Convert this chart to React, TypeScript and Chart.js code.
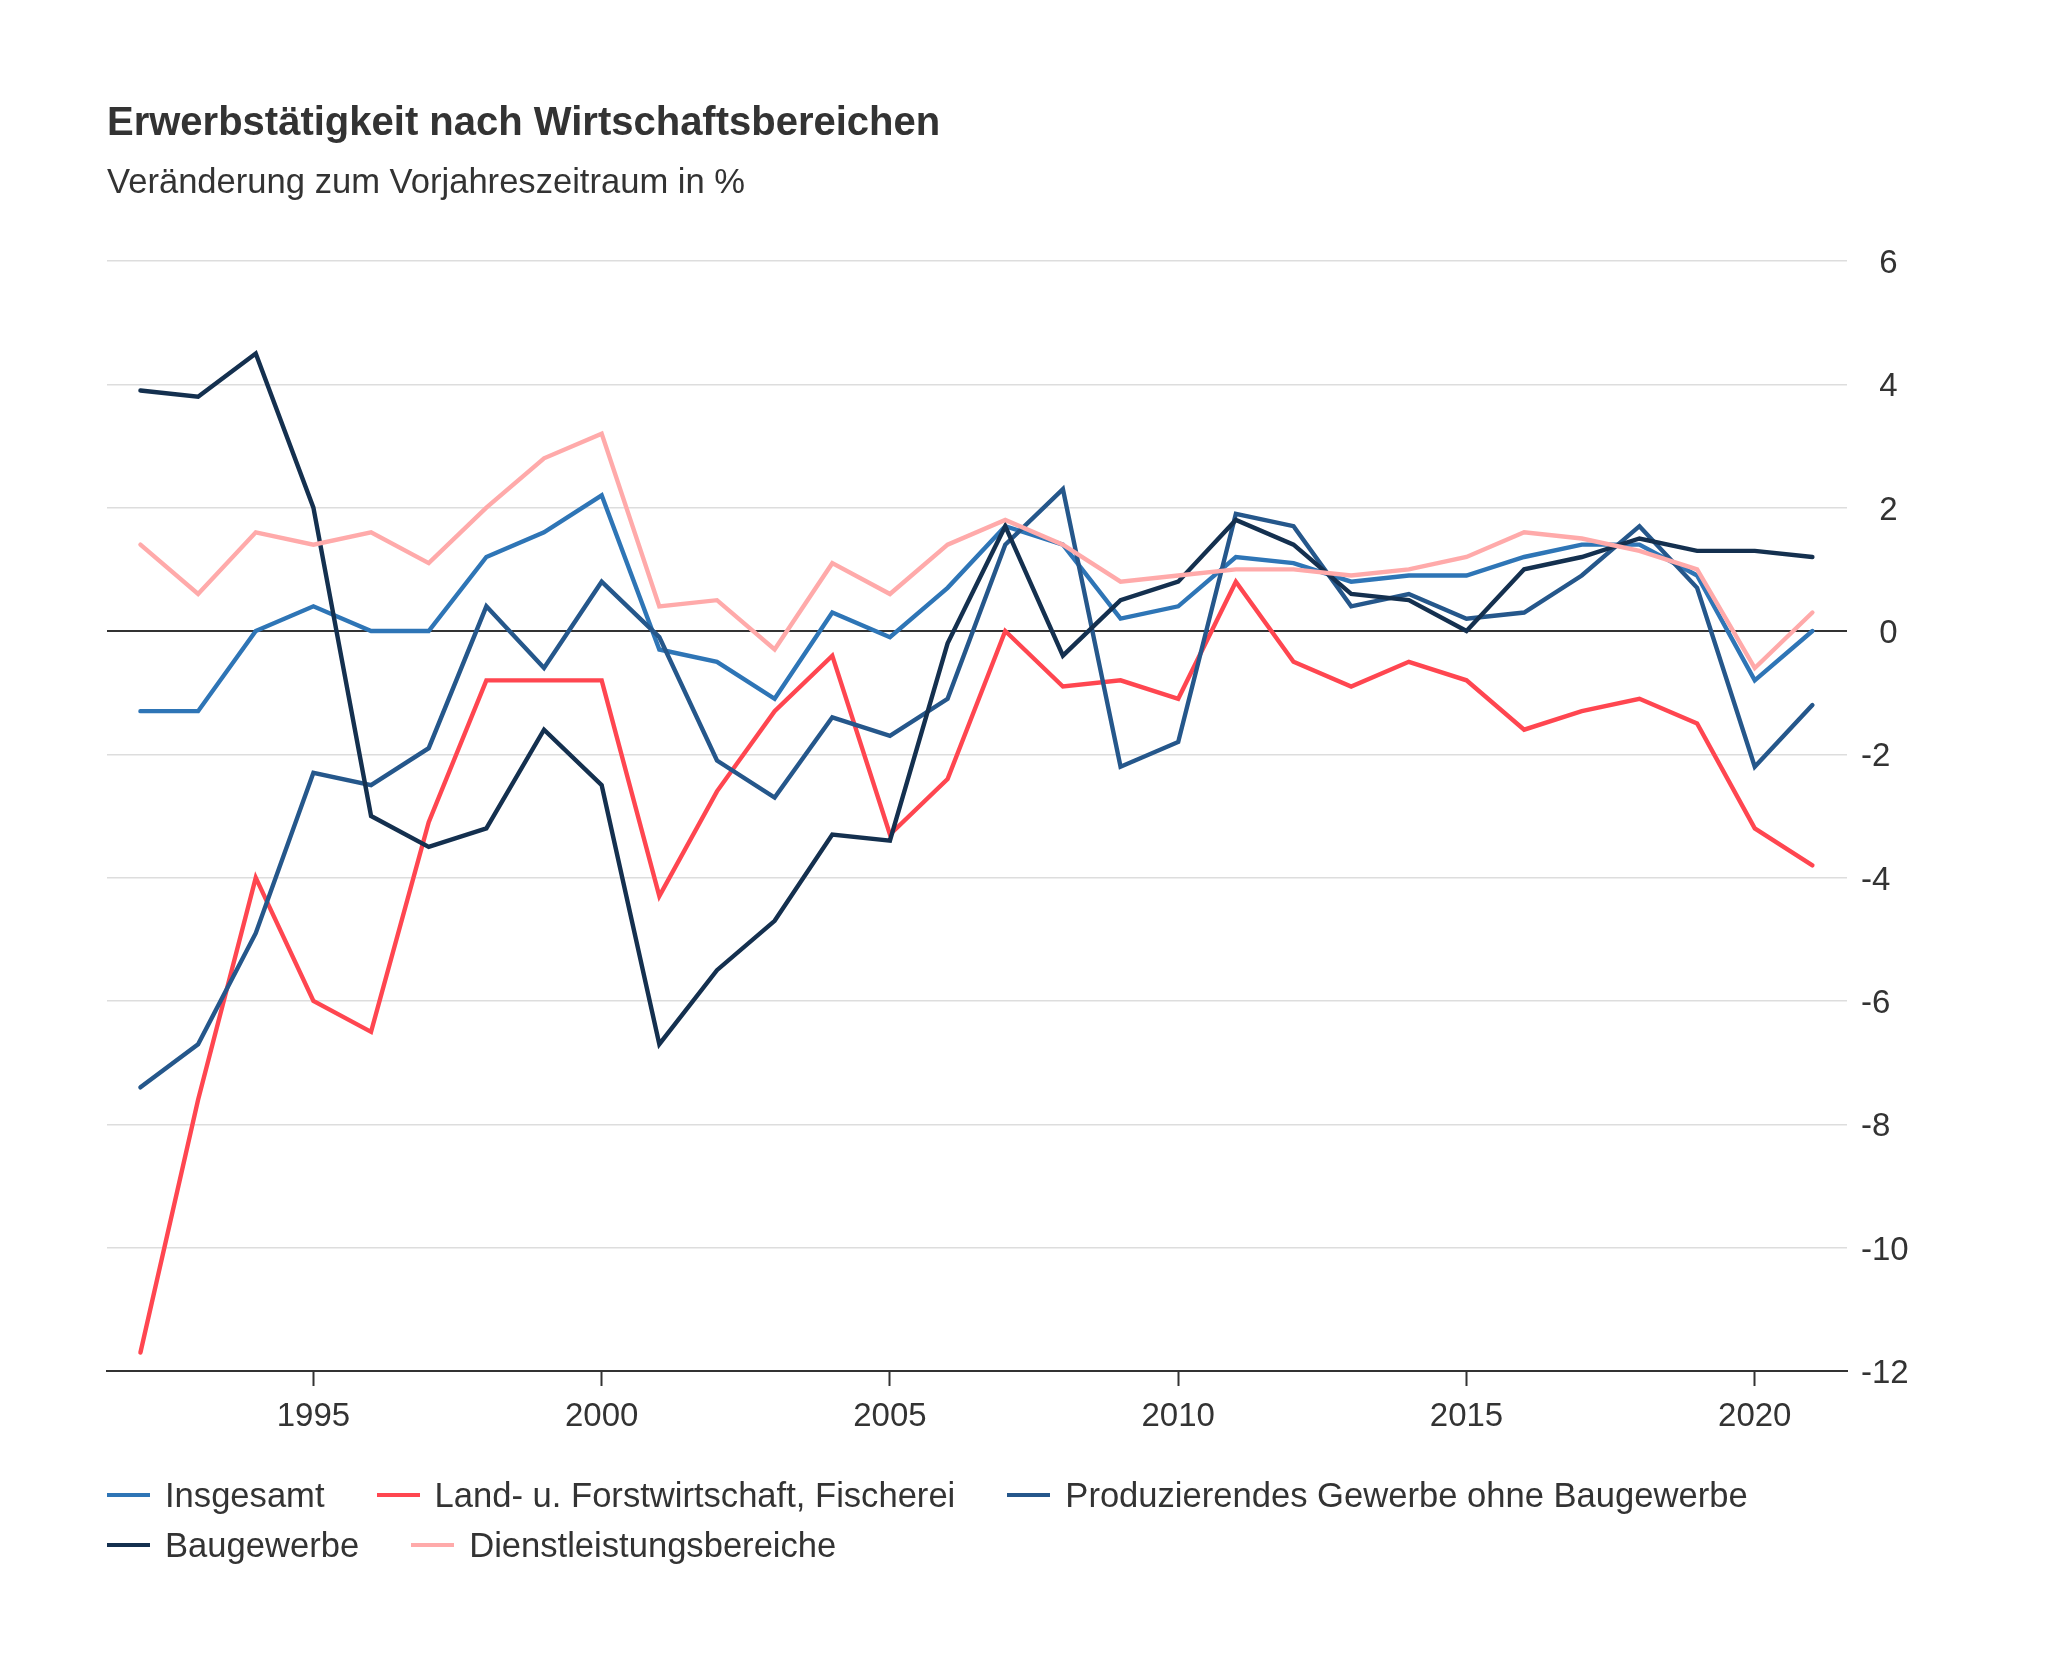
import React, { useEffect, useRef } from "react";
import { Chart, registerables } from "chart.js";

Chart.register(...registerables);

const years = [
  1992, 1993, 1994, 1995, 1996, 1997, 1998, 1999, 2000, 2001,
  2002, 2003, 2004, 2005, 2006, 2007, 2008, 2009, 2010, 2011,
  2012, 2013, 2014, 2015, 2016, 2017, 2018, 2019, 2020, 2021,
];

const insgesamt = [
  -1.3, -1.3, 0.0, 0.4, 0.0, 0.0, 1.2, 1.6, 2.2, -0.3,
  -0.5, -1.1, 0.3, -0.1, 0.7, 1.7, 1.4, 0.2, 0.4, 1.2,
  1.1, 0.8, 0.9, 0.9, 1.2, 1.4, 1.4, 0.9, -0.8, 0.0,
];

const landForst = [
  -11.7, -7.6, -4.0, -6.0, -6.5, -3.1, -0.8, -0.8, -0.8, -4.3,
  -2.6, -1.3, -0.4, -3.3, -2.4, 0.0, -0.9, -0.8, -1.1, 0.8,
  -0.5, -0.9, -0.5, -0.8, -1.6, -1.3, -1.1, -1.5, -3.2, -3.8,
];

const produzierend = [
  -7.4, -6.7, -4.9, -2.3, -2.5, -1.9, 0.4, -0.6, 0.8, -0.1,
  -2.1, -2.7, -1.4, -1.7, -1.1, 1.4, 2.3, -2.2, -1.8, 1.9,
  1.7, 0.4, 0.6, 0.2, 0.3, 0.9, 1.7, 0.7, -2.2, -1.2,
];

const baugewerbe = [
  3.9, 3.8, 4.5, 2.0, -3.0, -3.5, -3.2, -1.6, -2.5, -6.7,
  -5.5, -4.7, -3.3, -3.4, -0.2, 1.7, -0.4, 0.5, 0.8, 1.8,
  1.4, 0.6, 0.5, 0.0, 1.0, 1.2, 1.5, 1.3, 1.3, 1.2,
];

const dienstleistung = [
  1.4, 0.6, 1.6, 1.4, 1.6, 1.1, 2.0, 2.8, 3.2, 0.4,
  0.5, -0.3, 1.1, 0.6, 1.4, 1.8, 1.4, 0.8, 0.9, 1.0,
  1.0, 0.9, 1.0, 1.2, 1.6, 1.5, 1.3, 1.0, -0.6, 0.3,
];

const seriesNames = [
  "Insgesamt",
  "Land- u. Forstwirtschaft, Fischerei",
  "Produzierendes Gewerbe ohne Baugewerbe",
  "Baugewerbe",
  "Dienstleistungsbereiche",
];
const seriesValues = [insgesamt, landForst, produzierend, baugewerbe, dienstleistung];
const seriesColors = ["#2e75b6", "#ff4650", "#25578b", "#14304f", "#ffaaaa"];

const xTickValues = [1995, 2000, 2005, 2010, 2015, 2020];
const yTickValues = [-12, -10, -8, -6, -4, -2, 0, 2, 4, 6];

const titleText = "Erwerbstätigkeit nach Wirtschaftsbereichen";
const subtitleText = "Veränderung zum Vorjahreszeitraum in %";

const FONT = "'Liberation Sans', Arial, Helvetica, sans-serif";
const TEXT = "#333333";

// non-negative labels get a figure-width lead so digits line up with the
// digits of negative labels (minus sign hangs to the left, as in the source)
const formatY = (v: number) => (v < 0 ? String(v) : "\u2007" + String(v));

export default function App() {
  const canvasRef = useRef<HTMLCanvasElement | null>(null);

  useEffect(() => {
    if (!canvasRef.current) return;
    const datasets = seriesNames.map((name, i) => ({
      label: name,
      data: years.map((yr, j) => ({ x: yr, y: seriesValues[i][j] })),
      borderColor: seriesColors[i],
      backgroundColor: seriesColors[i],
      borderWidth: 4.4,
      pointRadius: 0,
      pointHoverRadius: 0,
      tension: 0,
      fill: false,
      borderCapStyle: "round" as const,
      order: seriesNames.length - i,
    }));

    const chart = new Chart(canvasRef.current, {
      type: "line",
      data: { datasets },
      options: {
        responsive: true,
        maintainAspectRatio: false,
        animation: false,
        layout: { padding: { left: 107, top: 261, right: 0, bottom: 0 } },
        plugins: {
          legend: { display: false },
          title: { display: false },
          tooltip: { enabled: false },
        },
        scales: {
          x: {
            type: "linear",
            min: 1991.42,
            max: 2021.6,
            afterBuildTicks: (s: any) => {
              s.ticks = xTickValues.map((v) => ({ value: v }));
            },
            afterFit: (s: any) => {
              s.height = 292;
            },
            grid: {
              display: true,
              drawOnChartArea: false,
              drawTicks: true,
              tickLength: 15,
              tickColor: TEXT,
              tickWidth: 2,
            },
            border: { display: true, color: TEXT, width: 2 },
            ticks: {
              font: { family: FONT, size: 33 },
              color: TEXT,
              padding: 11,
              maxRotation: 0,
              autoSkip: false,
              callback: (v: any) => String(v),
            },
          },
          y: {
            type: "linear",
            position: "right",
            min: -12,
            max: 6,
            afterBuildTicks: (s: any) => {
              s.ticks = yTickValues.map((v) => ({ value: v }));
            },
            afterFit: (s: any) => {
              s.width = 201;
            },
            grid: {
              drawTicks: false,
              color: (ctx: any) => (ctx.tick && ctx.tick.value === 0 ? TEXT : "#dddddd"),
              lineWidth: (ctx: any) => (ctx.tick && ctx.tick.value === 0 ? 2 : 1.5),
            },
            border: { display: false },
            ticks: {
              font: { family: FONT, size: 33 },
              color: TEXT,
              padding: 14,
              labelOffset: 3,
              callback: (v: any) => formatY(Number(v)),
            },
          },
        },
      },
    });
    return () => chart.destroy();
  }, []);

  return (
    <div style={{ position: "absolute", left: 0, top: 0, width: 2048, height: 1663, background: "#fff" }}>
      <canvas ref={canvasRef} style={{ position: "absolute", left: 0, top: 0 }} />
      <div
        style={{
          position: "absolute",
          left: 107,
          top: 101,
          fontFamily: FONT,
          fontWeight: "bold",
          fontSize: 40,
          lineHeight: "40px",
          color: TEXT,
          whiteSpace: "nowrap",
        }}
      >
        {titleText}
      </div>
      <div
        style={{
          position: "absolute",
          left: 107,
          top: 164,
          fontFamily: FONT,
          fontSize: 34.6,
          lineHeight: "34.6px",
          color: TEXT,
          whiteSpace: "nowrap",
        }}
      >
        {subtitleText}
      </div>
      <div
        style={{
          position: "absolute",
          left: 107,
          top: 1470,
          width: 1740,
          display: "flex",
          flexWrap: "wrap",
          columnGap: 52,
          rowGap: 0,
          fontFamily: FONT,
          fontSize: 34.6,
          color: TEXT,
        }}
      >
        {seriesNames.map((name, i) => (
          <div key={name} style={{ display: "flex", alignItems: "center", height: 50, whiteSpace: "nowrap" }}>
            <span
              style={{
                display: "inline-block",
                width: 43,
                height: 4,
                background: seriesColors[i],
                marginRight: 15,
              }}
            />
            <span style={{ lineHeight: "50px" }}>{name}</span>
          </div>
        ))}
      </div>
    </div>
  );
}
